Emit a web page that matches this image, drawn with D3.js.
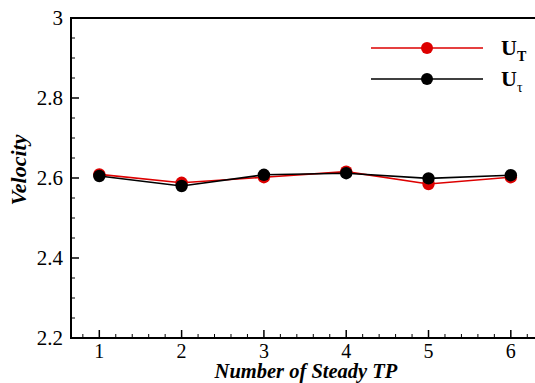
<!DOCTYPE html>
<html>
<head>
<meta charset="utf-8">
<script src="https://cdn.jsdelivr.net/npm/d3@7"></script>
<style>
  html, body { margin: 0; padding: 0; background: #fff; }
  svg { display: block; }
</style>
</head>
<body>
<svg id="chart" width="535" height="383"></svg>
<script>
// Steady TP count vs. velocity for the two estimates
const steadyTP = [1, 2, 3, 4, 5, 6];
const velocityUT = [2.609, 2.588, 2.602, 2.616, 2.585, 2.602];
const velocityUtau = [2.605, 2.580, 2.608, 2.612, 2.599, 2.607];
const yTicks = [2.2, 2.4, 2.6, 2.8, 3];
const xTicks = [1, 2, 3, 4, 5, 6];

const serif = '"Liberation Serif"';
const svg = d3.select("#chart");
const plot = { left: 71, top: 18, bottom: 338 };
const xStep = 82.3;

const x = d3.scaleLinear()
  .domain([0.656, 6.4])
  .range([plot.left, plot.left + (6.4 - 0.656) * xStep]);
const y = d3.scaleLinear().domain([2.2, 3]).range([plot.bottom, plot.top]);

const right = x.range()[1];

// minor ticks
const yMinor = d3.range(2.2, 3.0001, 0.05).filter(v => !yTicks.some(t => Math.abs(t - v) < 1e-6));
const xMinor = d3.range(0.8, 6.4, 0.2).filter(v => !xTicks.some(t => Math.abs(t - v) < 1e-6));

const g = svg.append("g");

g.selectAll(".ymin").data(yMinor).join("line")
  .attr("x1", plot.left).attr("x2", plot.left + 4)
  .attr("y1", d => y(d)).attr("y2", d => y(d))
  .attr("stroke", "#000").attr("stroke-width", 1);
g.selectAll(".ymaj").data(yTicks).join("line")
  .attr("x1", plot.left).attr("x2", plot.left + 8)
  .attr("y1", d => y(d)).attr("y2", d => y(d))
  .attr("stroke", "#000").attr("stroke-width", 1.5);

g.selectAll(".xmin").data(xMinor).join("line")
  .attr("x1", d => x(d)).attr("x2", d => x(d))
  .attr("y1", plot.bottom).attr("y2", plot.bottom - 4)
  .attr("stroke", "#000").attr("stroke-width", 1);
g.selectAll(".xmaj").data(xTicks).join("line")
  .attr("x1", d => x(d)).attr("x2", d => x(d))
  .attr("y1", plot.bottom).attr("y2", plot.bottom - 8)
  .attr("stroke", "#000").attr("stroke-width", 1.5);

// frame
g.append("rect")
  .attr("x", plot.left).attr("y", plot.top)
  .attr("width", right - plot.left).attr("height", plot.bottom - plot.top)
  .attr("fill", "none").attr("stroke", "#000").attr("stroke-width", 2);

// tick labels
g.selectAll(".ylab").data(yTicks).join("text")
  .style("font-family", serif)
  .attr("x", plot.left - 8).attr("y", d => y(d) + 7)
  .attr("text-anchor", "end").attr("font-size", 21)
  .text(d => d3.format("")(d));
g.selectAll(".xlab").data(xTicks).join("text")
  .style("font-family", serif)
  .attr("x", d => x(d)).attr("y", 358)
  .attr("text-anchor", "middle").attr("font-size", 20)
  .text(d => d);

// axis titles
svg.append("text")
  .style("font-family", serif)
  .attr("transform", `translate(26,${y(2.6) - 8}) rotate(-90)`)
  .attr("text-anchor", "middle").attr("font-size", 22)
  .attr("font-weight", "bold").attr("font-style", "italic")
  .text("Velocity");
svg.append("text")
  .style("font-family", serif)
  .attr("x", 306).attr("y", 378)
  .attr("text-anchor", "middle").attr("font-size", 20.5)
  .attr("font-weight", "bold").attr("font-style", "italic")
  .text("Number of Steady TP");

// series
const series = [
  { name: "T", values: velocityUT, color: "#dd0000", ly: 48 },
  { name: "τ", values: velocityUtau, color: "#000000", ly: 79 }
];
const line = d3.line().x((d, i) => x(steadyTP[i])).y(d => y(d));

series.forEach(s => {
  svg.append("path")
    .attr("d", line(s.values))
    .attr("fill", "none").attr("stroke", s.color).attr("stroke-width", 1.6);
  svg.selectAll(null).data(s.values).join("circle")
    .attr("cx", (d, i) => x(steadyTP[i])).attr("cy", d => y(d))
    .attr("r", 6.2).attr("fill", s.color);
});

// legend
series.forEach(s => {
  svg.append("line")
    .attr("x1", 371).attr("x2", 483).attr("y1", s.ly).attr("y2", s.ly)
    .attr("stroke", s.color).attr("stroke-width", 1.6);
  svg.append("circle").attr("cx", 427).attr("cy", s.ly).attr("r", 6).attr("fill", s.color);
  const t = svg.append("text").style("font-family", serif)
    .attr("x", 501).attr("y", s.ly + 7)
    .attr("font-size", 22).attr("font-weight", "bold");
  t.append("tspan").text("U");
  t.append("tspan").attr("dy", 6).attr("font-size", 14)
    .attr("font-weight", s.name === "T" ? "bold" : "normal").text(s.name);
});
</script>
</body>
</html>
